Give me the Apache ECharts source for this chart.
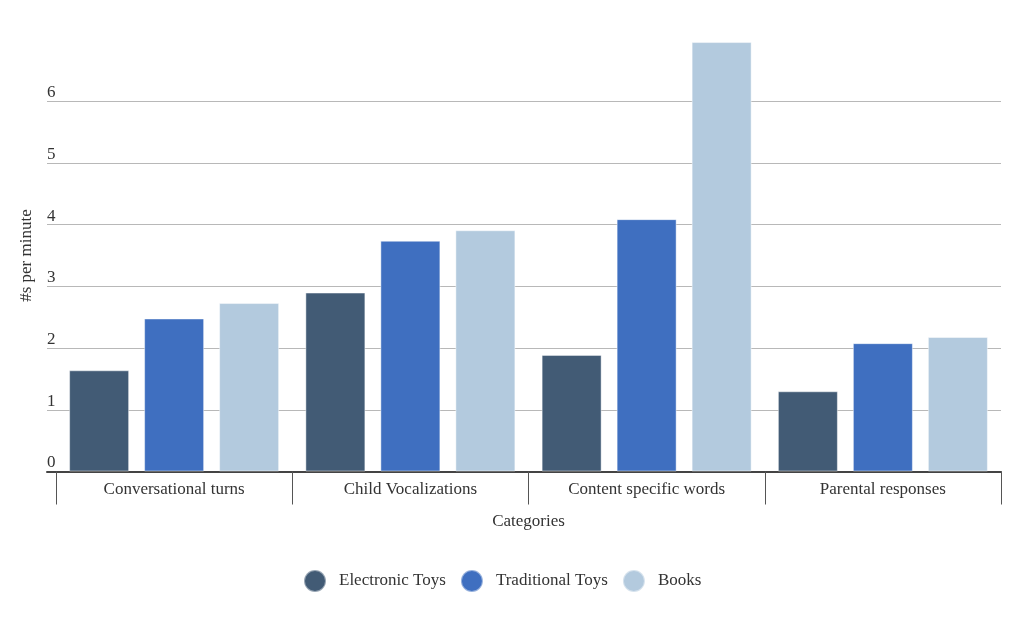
<!DOCTYPE html>
<html>
<head>
<meta charset="utf-8">
<script src="https://cdn.jsdelivr.net/npm/echarts@6/dist/echarts.min.js"></script>
<style>html,body{margin:0;padding:0;background:#fff;}#c{width:1024px;height:624px;}</style>
</head>
<body>
<div id="c"></div>
<script>
var categories = ['Conversational turns', 'Child Vocalizations', 'Content specific words', 'Parental responses'];
var seriesNames = ['Electronic Toys', 'Traditional Toys', 'Books'];
var electronicToys = [1.64, 2.90, 1.89, 1.30];
var traditionalToys = [2.48, 3.74, 4.09, 2.08];
var books = [2.73, 3.91, 6.96, 2.18];
var colors = ['#425b75', '#3f6fc0', '#b3cade'];
var yMin = 0, yMax = 7, yStep = 1;

var FONT = '"Liberation Serif", "Times New Roman", serif';
var FS = 17;
var chart = echarts.init(document.getElementById('c'));
var gridTop = 39.6, gridBottom = 152.5;
var gridColors = [];
for (var i = 0; i < 7; i++) gridColors.push('#b8b8b8');
gridColors.push('rgba(0,0,0,0)');

function bar(name, data, color) {
  return {
    name: name, type: 'bar', data: data, xAxisIndex: 1, yAxisIndex: 1,
    barWidth: 60, barGap: '25%',
    itemStyle: { color: color, borderColor: 'rgba(255,255,255,0.45)', borderWidth: 1 }
  };
}

chart.setOption({
  backgroundColor: '#fff',
  animation: false,
  color: colors,
  grid: [
    { left: 47, right: 23, top: gridTop, bottom: gridBottom },
    { left: 56, right: 23, top: gridTop, bottom: gridBottom }
  ],
  legend: {
    data: seriesNames, left: 298, top: 564, icon: 'circle',
    itemWidth: 22, itemHeight: 22, itemGap: 14,
    textStyle: { fontFamily: FONT, fontSize: FS, color: '#333', padding: [0, 0, 0, 8] }
  },
  xAxis: [
    { type: 'value', gridIndex: 0, min: 0, max: 1,
      axisLine: { show: true, onZero: false, lineStyle: { color: '#444', width: 2 } },
      axisTick: { show: false }, axisLabel: { show: false }, splitLine: { show: false } },
    { type: 'category', gridIndex: 1, data: categories,
      axisLine: { show: false },
      axisTick: { show: true, length: 33, lineStyle: { color: '#555', width: 1 } },
      axisLabel: { margin: 10, fontFamily: FONT, fontSize: FS, color: '#333' },
      name: 'Categories', nameLocation: 'middle', nameGap: 42,
      nameTextStyle: { fontFamily: FONT, fontSize: FS, color: '#333' } }
  ],
  yAxis: [
    { type: 'value', gridIndex: 0, min: yMin, max: yMax, interval: yStep,
      axisLine: { show: false }, axisTick: { show: false },
      axisLabel: { inside: true, margin: 0, verticalAlign: 'bottom', padding: [0, 0, 0, 0],
        fontFamily: FONT, fontSize: FS, color: '#333',
        formatter: function (v) { return v >= yMax ? '' : String(v); } },
      splitLine: { show: true, lineStyle: { color: gridColors, width: 1 } },
      name: '#s per minute', nameLocation: 'middle', nameRotate: 90, nameGap: 12,
      nameTextStyle: { fontFamily: FONT, fontSize: FS, color: '#333' } },
    { type: 'value', gridIndex: 1, min: yMin, max: yMax, interval: yStep, show: false,
      splitLine: { show: false } }
  ],
  series: [
    bar(seriesNames[0], electronicToys, colors[0]),
    bar(seriesNames[1], traditionalToys, colors[1]),
    bar(seriesNames[2], books, colors[2])
  ]
});
</script>
</body>
</html>
